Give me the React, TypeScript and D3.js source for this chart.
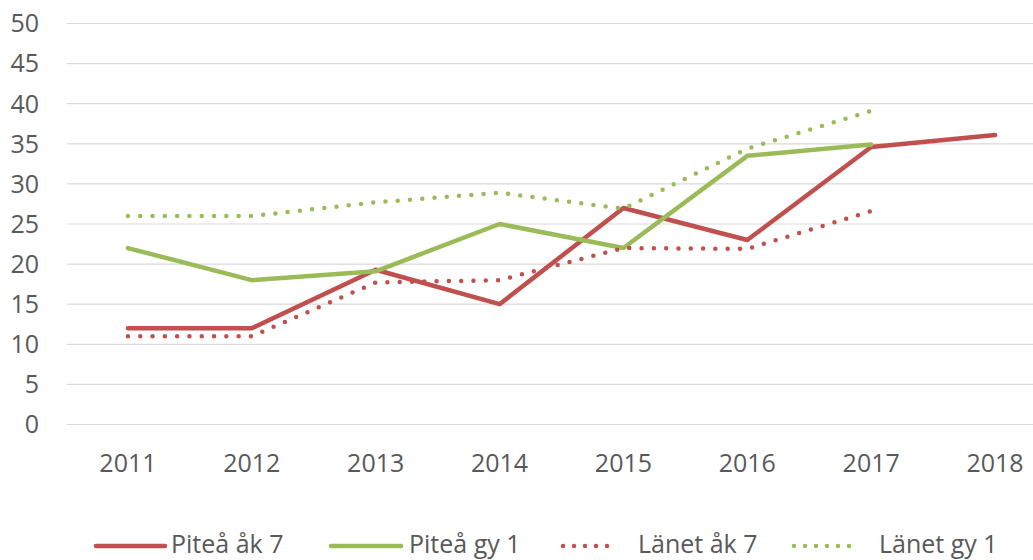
import React from "react";
import * as d3 from "d3";

const years = ["2011", "2012", "2013", "2014", "2015", "2016", "2017", "2018"];
const yTicks = [0, 5, 10, 15, 20, 25, 30, 35, 40, 45, 50];
const piteaAk7 = [12, 12, 19.3, 15, 27, 23, 34.6, 36.1];
const piteaGy1 = [22, 18, 19.1, 25, 22, 33.5, 34.9, null];
const lanetAk7 = [11, 11, 17.7, 18, 22, 21.9, 26.6, null];
const lanetGy1 = [26, 26, 27.7, 28.9, 26.9, 34.4, 39.1, null];

const seriesNames = ["Piteå åk 7", "Piteå gy 1", "Länet åk 7", "Länet gy 1"];
const seriesData = [piteaAk7, piteaGy1, lanetAk7, lanetGy1];
const RED = "#C0504D";
const GREEN = "#9BBB59";
const seriesColor = [RED, GREEN, RED, GREEN];
const seriesDotted = [false, false, true, true];

const W = 1033;
const H = 560;
const FONT = "'Open Sans', Lato, sans-serif";
const TEXT = "#595959";

export default function App() {
  const x = d3.scaleBand<string>().domain(years).range([66, 1057]);
  const y = d3.scaleLinear().domain([0, 50]).range([424.5, 23.5]);
  const cx = (yr: string) => (x(yr) as number) + x.bandwidth() / 2;
  const line = d3
    .line<number | null>()
    .defined((d) => d !== null)
    .x((_, i) => cx(years[i]))
    .y((d) => y(d as number));

  const legendX = [96, 331, 563, 794];
  const legendLen = [69, 70, 55, 60];
  const legendTextX = [171, 409, 638, 879];
  const legendY = 546;

  return (
    <svg
      width={W}
      height={H}
      style={{ position: "absolute", left: 0, top: 0, background: "#fff" }}
      fontFamily={FONT}
    >
      <rect width={W} height={H} fill="#fff" />
      {yTicks.map((t) => (
        <g key={t}>
          <line x1={67} x2={W} y1={y(t)} y2={y(t)} stroke="#D9D9D9" strokeWidth={1.2} />
          <text x={39} y={y(t) + 8.8} textAnchor="end" fontSize={25} fill={TEXT}>
            {t}
          </text>
        </g>
      ))}
      {years.map((yr) => (
        <text key={yr} x={cx(yr)} y={471.5} textAnchor="middle" fontSize={25} fill={TEXT}>
          {yr}
        </text>
      ))}
      {seriesData.map((s, i) => (
        <path
          key={seriesNames[i]}
          d={line(s) || ""}
          fill="none"
          stroke={seriesColor[i]}
          strokeWidth={4.5}
          strokeLinecap="round"
          strokeLinejoin="round"
          strokeDasharray={seriesDotted[i] ? "0 12.3" : undefined}
        />
      ))}
      {seriesNames.map((n, i) => (
        <g key={n}>
          <line
            x1={legendX[i]}
            x2={legendX[i] + legendLen[i]}
            y1={legendY}
            y2={legendY}
            stroke={seriesColor[i]}
            strokeWidth={4.5}
            strokeLinecap="round"
            strokeDasharray={seriesDotted[i] ? "0 11" : undefined}
          />
          <text x={legendTextX[i]} y={553} fontSize={25} fill={TEXT}>
            {n}
          </text>
        </g>
      ))}
    </svg>
  );
}
